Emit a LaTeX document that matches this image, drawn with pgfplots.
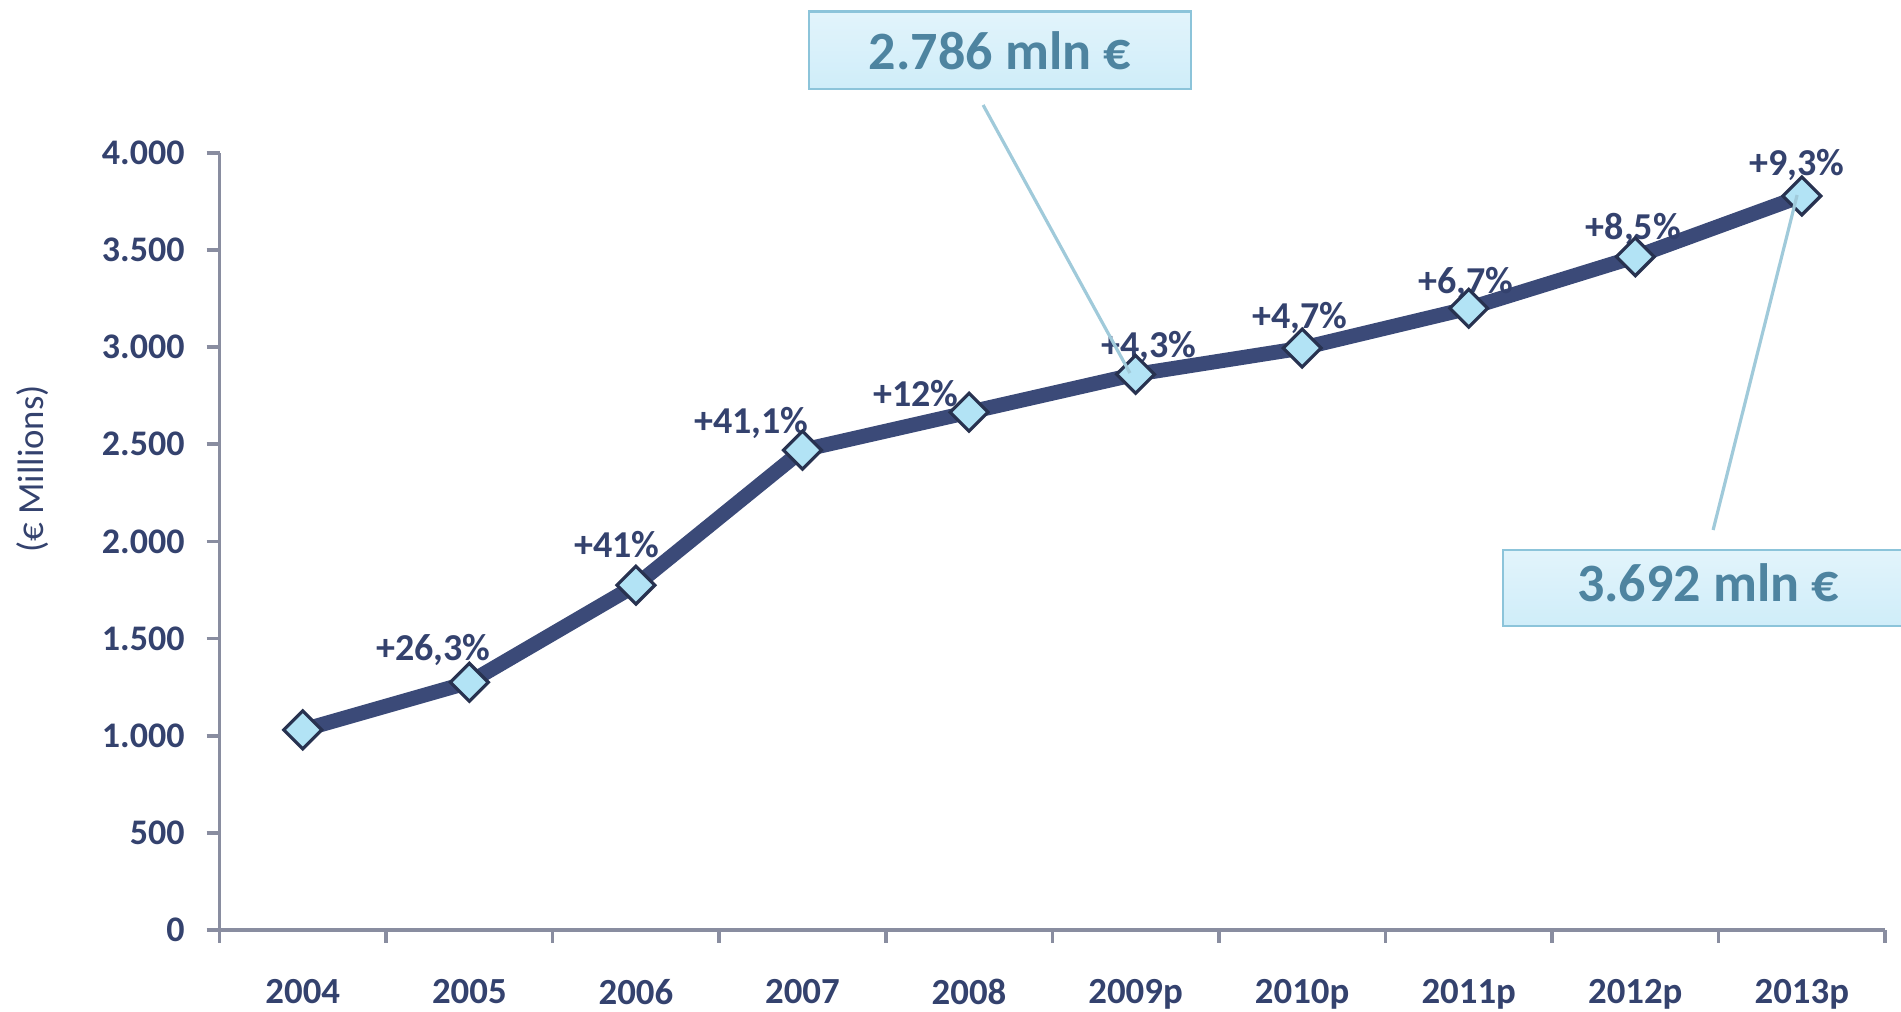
\documentclass[border=0pt]{standalone}
\usepackage{fontspec}
\setmainfont{Carlito}
\usepackage{pgfplots}
\pgfplotsset{compat=1.18}
\definecolor{navytxt}{RGB}{52,66,110}
\definecolor{linecol}{RGB}{59,74,120}
\definecolor{axiscol}{RGB}{137,141,160}
\definecolor{boxfill}{RGB}{207,237,249}
\definecolor{boxfill2}{RGB}{226,244,251}
\definecolor{boxdraw}{RGB}{140,196,218}
\definecolor{boxtxt}{RGB}{78,132,160}
\definecolor{leader}{RGB}{160,202,218}
\definecolor{mkfill}{RGB}{178,227,245}
\definecolor{mkdraw}{RGB}{40,50,80}
\begin{document}
\begin{tikzpicture}
\path[use as bounding box] (-54.875pt,-20.25pt) rectangle (420.375pt,232.5pt);
\begin{axis}[
  at={(0pt,0pt)}, anchor=south west,
  scale only axis,
  width=416.4pt, height=194.3pt,
  xmin=-0.5, xmax=9.5, ymin=0, ymax=4000,
  axis x line*=bottom, axis y line*=left,
  axis line style={draw=axiscol, line width=0.9pt, -},
  tick align=outside,
  tick style={draw=axiscol, line width=0.9pt},
  major tick length=3.2pt,
  xtick={-0.5,0.5,...,9.5}, xticklabels={},
  extra x ticks={0,1,2,3,4,5,6,7,8,9},
  extra x tick labels={2004,2005,2006,2007,2008,2009p,2010p,2011p,2012p,2013p},
  extra x tick style={major tick length=0pt, tick style={draw=none},
     xticklabel style={font=\fontsize{9.2}{10}\selectfont\bfseries, text=navytxt, yshift=-8.7pt}},
  ytick={0,500,1000,1500,2000,2500,3000,3500,4000},
  yticklabels={0,500,1.000,1.500,2.000,2.500,3.000,3.500,4.000},
  yticklabel style={font=\fontsize{9}{10}\selectfont\bfseries, text=navytxt, xshift=-2pt},
  clip=false,
]
\addplot[color=linecol, line width=3.7pt, mark=square*, mark size=3.35pt,
  mark options={rotate=45, fill=mkfill, draw=mkdraw, line width=0.8pt}]
  coordinates {(0,1030) (1,1275) (2,1775) (3,2470) (4,2665) (5,2860) (6,2995) (7,3200) (8,3465) (9,3778)};
\tikzset{pl/.style={font=\fontsize{9.5}{10}\selectfont\bfseries, text=navytxt, inner sep=0pt}}
\node[pl, xshift=-9pt, yshift=8pt] at (axis cs:1,1275) {+26,3\%};
\node[pl, xshift=-4.75pt, yshift=10.25pt] at (axis cs:2,1775) {+41\%};
\node[pl, xshift=-12.75pt, yshift=6.75pt] at (axis cs:3,2470) {+41,1\%};
\node[pl, xshift=-13.25pt, yshift=4.75pt] at (axis cs:4,2665) {+12\%};
\node[pl, xshift=3.25pt, yshift=6.75pt] at (axis cs:5,2860) {+4,3\%};
\node[pl, xshift=-0.5pt, yshift=7.5pt] at (axis cs:6,2995) {+4,7\%};
\node[pl, xshift=-0.75pt, yshift=6.25pt] at (axis cs:7,3200) {+6,7\%};
\node[pl, xshift=-0.5pt, yshift=7pt] at (axis cs:8,3465) {+8,5\%};
\node[pl, xshift=-1.25pt, yshift=7.75pt] at (axis cs:9,3778) {+9,3\%};
\end{axis}
\node[rotate=90, font=\fontsize{9.2}{10}\selectfont, text=navytxt] at (-46.7pt,115.25pt) {(€ Millions)};
% annotation boxes
\shade[top color=boxfill2, bottom color=boxfill, draw=boxdraw, line width=0.6pt] (147.4pt,210.25pt) rectangle (242.8pt,229.6pt);
\node[font=\fontsize{13.5}{15}\selectfont\bfseries, text=boxtxt] at (195.1pt,219.9pt) {2.786 mln €};
\draw[leader, line width=0.8pt] (190.9pt,206.25pt) -- (227.6pt,139.25pt);
\shade[top color=boxfill2, bottom color=boxfill, draw=boxdraw, line width=0.6pt] (320.9pt,76pt) rectangle (425pt,95pt);
\node[font=\fontsize{13.5}{15}\selectfont\bfseries, text=boxtxt] at (372.1pt,86.7pt) {3.692 mln €};
\draw[leader, line width=0.8pt] (373.4pt,100pt) -- (394.4pt,183.75pt);
\end{tikzpicture}
\end{document}
